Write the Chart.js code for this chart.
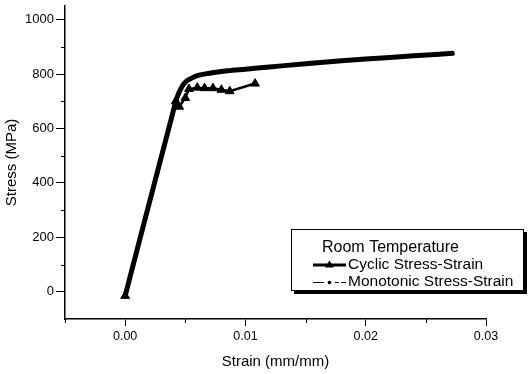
<!DOCTYPE html>
<html>
<head>
<meta charset="utf-8">
<script src="https://cdn.jsdelivr.net/npm/chart.js@4/dist/chart.umd.min.js"></script>
<style>
html,body{margin:0;padding:0;background:#fff;}
#wrap{width:528px;height:374px;}
</style>
</head>
<body>
<div id="wrap"><canvas id="c" width="528" height="374"></canvas></div>
<script>
// Data
const monoStrain  = [0, 0.0038, 0.0043, 0.0047, 0.0050, 0.0055, 0.0060, 0.0070, 0.0085, 0.0100, 0.0120, 0.0150, 0.0180, 0.0210, 0.0240, 0.0272];
const monoStress  = [-15, 630, 712, 752, 770, 784, 794, 803, 812, 818, 826, 838, 849, 858, 867, 876];
const cycStrain   = [0, 0.0042, 0.0045, 0.0050, 0.0053, 0.0060, 0.0066, 0.0073, 0.0080, 0.0087, 0.0108];
const cycStress   = [-15, 700, 680, 712, 745, 750, 748, 748, 742, 737, 765];
const xMajorTicks = [0, 0.01, 0.02, 0.03];
const xMinorTicks = [-0.005, 0.005, 0.015, 0.025];
const yMajorTicks = [0, 200, 400, 600, 800, 1000];
const yMinorTicks = [100, 300, 500, 700, 900];
const legendTitle = 'Room Temperature';
const labelCyclic = 'Cyclic Stress-Strain';
const labelMono = 'Monotonic Stress-Strain';

const FONT = "'Liberation Sans', Arial, sans-serif";

const toXY = (xs, ys) => xs.map((x, i) => ({x: x, y: ys[i]}));

const minorTicks = {
  id: 'minorTicks',
  afterDatasetsDraw(chart) {
    const ctx = chart.ctx;
    const xs = chart.scales.x, ys = chart.scales.y;
    ctx.save();
    ctx.strokeStyle = '#000';
    ctx.lineWidth = 1;
    ctx.beginPath();
    yMinorTicks.forEach(v => {
      const p = Math.round(ys.getPixelForValue(v)) + 0.5;
      ctx.moveTo(ys.right - 4, p); ctx.lineTo(ys.right, p);
    });
    xMinorTicks.forEach(v => {
      const p = Math.round(xs.getPixelForValue(v)) + 0.5;
      ctx.moveTo(p, xs.top); ctx.lineTo(p, xs.top + 4);
    });
    ctx.stroke();
    ctx.restore();
  }
};

const boxLegend = {
  id: 'boxLegend',
  afterDraw(chart) {
    const ctx = chart.ctx;
    const bx = 291, by = 229, bw = 233, bh = 62;
    ctx.save();
    // shadow
    ctx.fillStyle = '#000';
    ctx.fillRect(bx + 3, by + 3, bw, bh);
    ctx.fillStyle = '#fff';
    ctx.fillRect(bx, by, bw, bh);
    ctx.strokeStyle = '#000';
    ctx.lineWidth = 1;
    ctx.strokeRect(bx + 0.5, by + 0.5, bw - 1, bh - 1);
    ctx.fillStyle = '#000';
    ctx.textBaseline = 'middle';
    ctx.textAlign = 'left';
    ctx.font = '16px ' + FONT;
    ctx.fillText(legendTitle, 322, 248);
    ctx.font = '15.5px ' + FONT;
    ctx.fillText(labelCyclic, 348, 265);
    ctx.fillText(labelMono, 348, 282);
    // cyclic sample: thick line with triangle
    ctx.lineWidth = 3;
    ctx.beginPath();
    ctx.moveTo(313, 265); ctx.lineTo(346, 265);
    ctx.stroke();
    ctx.beginPath();
    ctx.moveTo(329.5, 260.5); ctx.lineTo(334, 267.5); ctx.lineTo(325, 267.5); ctx.closePath();
    ctx.fill();
    // monotonic sample: thin line with dot
    ctx.lineWidth = 1;
    ctx.beginPath();
    ctx.moveTo(313, 282.5); ctx.lineTo(324, 282.5);
    ctx.moveTo(335, 282.5); ctx.lineTo(339, 282.5);
    ctx.moveTo(341, 282.5); ctx.lineTo(346, 282.5);
    ctx.stroke();
    ctx.beginPath();
    ctx.arc(329.5, 282.5, 1.8, 0, Math.PI * 2);
    ctx.fill();
    ctx.restore();
  }
};

new Chart(document.getElementById('c'), {
  type: 'scatter',
  data: {
    datasets: [
      {
        label: labelMono,
        data: toXY(monoStrain, monoStress),
        showLine: true,
        borderColor: '#000',
        backgroundColor: '#000',
        borderWidth: 5,
        pointRadius: 0,
        cubicInterpolationMode: 'monotone',
        borderCapStyle: 'round',
        borderJoinStyle: 'round'
      },
      {
        label: labelCyclic,
        data: toXY(cycStrain, cycStress),
        showLine: true,
        borderColor: '#000',
        backgroundColor: '#000',
        borderWidth: 2.5,
        pointStyle: 'triangle',
        pointRadius: 5,
        pointBorderWidth: 1,
        tension: 0
      }
    ]
  },
  options: {
    responsive: false,
    animation: false,
    devicePixelRatio: 1,
    layout: { padding: { left: 0, right: 42, top: 4, bottom: 0 } },
    plugins: { legend: { display: false }, tooltip: { enabled: false } },
    scales: {
      x: {
        type: 'linear',
        min: -0.005,
        max: 0.03,
        afterBuildTicks: s => { s.ticks = xMajorTicks.map(v => ({value: v})); },
        afterFit: s => { s.height = 55; s.paddingLeft = 0; s.paddingRight = 0; },
        border: { display: true, color: '#000', width: 1.5 },
        grid: { display: true, drawOnChartArea: false, drawTicks: true, tickLength: 7, color: '#000', lineWidth: 1 },
        ticks: {
          color: '#000',
          font: { family: FONT, size: 12.5 },
          padding: 3,
          maxRotation: 0,
          callback: v => v.toFixed(2)
        },
        title: {
          display: true,
          text: 'Strain (mm/mm)',
          color: '#000',
          font: { family: FONT, size: 15, lineHeight: 1.2 },
          padding: { top: 0, bottom: 3 }
        }
      },
      y: {
        type: 'linear',
        min: -100,
        max: 1050,
        afterBuildTicks: s => { s.ticks = yMajorTicks.map(v => ({value: v})); },
        afterFit: s => { s.width = 65; s.paddingTop = 0; s.paddingBottom = 0; },
        border: { display: true, color: '#000', width: 1.5 },
        grid: { display: true, drawOnChartArea: false, drawTicks: true, tickLength: 9, color: '#000', lineWidth: 1 },
        ticks: {
          color: '#000',
          font: { family: FONT, size: 13 },
          padding: 2,
          callback: v => String(v)
        },
        title: {
          display: true,
          text: 'Stress (MPa)',
          color: '#000',
          font: { family: FONT, size: 15, lineHeight: 1.2 },
          padding: { top: 3, bottom: 0 }
        }
      }
    }
  },
  plugins: [minorTicks, boxLegend]
});
</script>
</body>
</html>
